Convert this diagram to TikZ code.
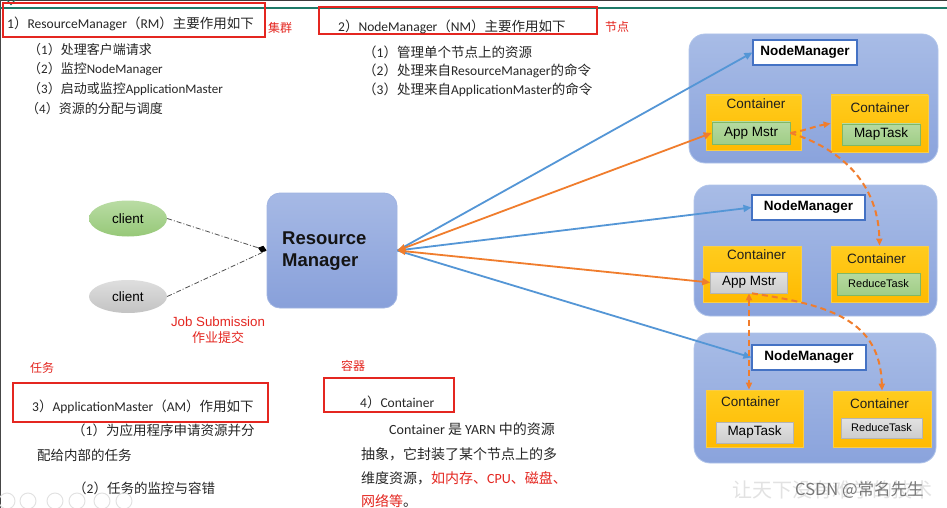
\documentclass[tikz,border=0pt]{standalone}
\usepackage{fontspec}
\setmainfont{Carlito}
\newfontfamily\cjk{Noto Sans CJK SC}
\newfontfamily\arial{Liberation Sans}
\usetikzlibrary{arrows.meta,shapes.geometric}
\definecolor{redc}{RGB}{228,38,32}
\definecolor{txtc}{RGB}{38,38,38}
\definecolor{bluel}{RGB}{84,150,214}
\definecolor{orng}{RGB}{240,125,45}
\definecolor{tealc}{RGB}{30,122,104}
\definecolor{frame1}{RGB}{60,60,60}
\definecolor{frame2}{RGB}{70,70,70}
\definecolor{ddc}{RGB}{80,80,80}
\tikzset{
  txt/.style={anchor=west, inner sep=0pt, text=txtc, font=\fontsize{13.5}{16}\selectfont},
  txtsm/.style={txt, font=\fontsize{13}{16}\selectfont},
  txtp/.style={txt, font=\fontsize{14}{16}\selectfont},
  redlbl/.style={anchor=west, inner sep=0pt, text=redc, font=\cjk\fontsize{12}{14}\selectfont},
  redbox/.style={draw=redc, line width=1.3pt, inner sep=0pt},
  panel/.style={rounded corners=16pt, top color={rgb,255:red,168;green,188;blue,230}, bottom color={rgb,255:red,138;green,163;blue,220}, draw={rgb,255:red,176;green,196;blue,234}, line width=0.8pt, inner sep=0pt},
  rmbox/.style={rounded corners=13pt, top color={rgb,255:red,166;green,185;blue,229}, bottom color={rgb,255:red,136;green,160;blue,218}, draw={rgb,255:red,160;green,180;blue,226}, line width=0.8pt, inner sep=0pt},
  nmbox/.style={fill=white, draw={rgb,255:red,68;green,114;blue,196}, line width=1.1pt, inner sep=0pt, font=\arial\bfseries\fontsize{13.5}{16}\selectfont, text=black},
  cont/.style={top color={rgb,255:red,255;green,204;blue,30}, bottom color={rgb,255:red,255;green,186;blue,0}, draw={rgb,255:red,250;green,205;blue,70}, line width=0.8pt, inner sep=0pt},
  contlbl/.style={inner sep=0pt, font=\arial\fontsize{13.5}{16}\selectfont, text={rgb,255:red,30;green,30;blue,30}},
  gbox/.style={top color={rgb,255:red,182;green,218;blue,160}, bottom color={rgb,255:red,160;green,205;blue,135}, draw={rgb,255:red,128;green,184;blue,100}, line width=0.7pt, inner sep=0pt, font=\arial\fontsize{13.5}{16}\selectfont, text=black},
  graybox/.style={top color={rgb,255:red,226;green,226;blue,226}, bottom color={rgb,255:red,205;green,205;blue,205}, draw={rgb,255:red,180;green,180;blue,180}, line width=0.7pt, inner sep=0pt, font=\arial\fontsize{13.5}{16}\selectfont, text=black},
  smallfont/.style={font=\arial\fontsize{11}{13}\selectfont},
  clientg/.style={ellipse, top color={rgb,255:red,186;green,220;blue,164}, bottom color={rgb,255:red,150;green,200;blue,120}, draw=none, inner sep=0pt, font=\arial\fontsize{13.5}{16}\selectfont, text=black},
  clientgr/.style={ellipse, top color={rgb,255:red,222;green,222;blue,222}, bottom color={rgb,255:red,195;green,195;blue,195}, draw=none, inner sep=0pt, font=\arial\fontsize{13.5}{16}\selectfont, text=black},
  bluearr/.style={draw=bluel, line width=1.8pt, -{Triangle[length=8pt,width=7pt]}},
  orarr/.style={draw=orng, line width=1.8pt, {Triangle[length=8pt,width=7pt]}-{Triangle[length=8pt,width=7pt]}},
  ordash/.style={draw=orng, line width=2pt, dash pattern=on 6pt off 4pt},
  ddline/.style={draw=ddc, line width=0.8pt, dash pattern=on 5pt off 2pt on 1pt off 2pt},
  faint/.style={draw={rgb,255:red,225;green,225;blue,225}, line width=0.9pt}
}
\begin{document}
\begin{tikzpicture}[x=1pt,y=-1pt]
\useasboundingbox (0,0) rectangle (947,508);
\fill[white] (0,0) rectangle (947,508);
% frame lines
\draw[draw=frame1, line width=1.2pt] (0,0.6) -- (947,0.6);
\draw[draw=frame2, line width=1.2pt] (0.6,0) -- (0.6,508);
\draw[draw=tealc, line width=2.5pt] (0,8) -- (947,8);
\draw[draw=tealc, line width=1.2pt] (7,0) -- (11,4.5) -- (15,0);

% ===== top-left block =====
\node[redbox, minimum width=262pt, minimum height=34pt] (rb1) at (134,20) {};
\node[txt] (t1) at (7,24) {1{\cjk ）}ResourceManager{\cjk （}RM{\cjk ）主要作用如下}};
\node[redlbl] (jq) at (268,28) {集群};
\node[txtsm] (l1a) at (28,50) {{\cjk （}1{\cjk ）处理客户端请求}};
\node[txtsm] (l1b) at (28,69) {{\cjk （}2{\cjk ）监控}NodeManager};
\node[txtsm] (l1c) at (28,89) {{\cjk （}3{\cjk ）启动或监控}ApplicationMaster};
\node[txtsm] (l1d) at (26,109) {{\cjk （}4{\cjk ）资源的分配与调度}};

% ===== top-middle block =====
\node[redbox, minimum width=278pt, minimum height=27pt] (rb2) at (458,20.5) {};
\node[txt] (t2) at (338,27) {2{\cjk ）}NodeManager{\cjk （}NM{\cjk ）主要作用如下}};
\node[redlbl] (jd) at (605,27) {节点};
\node[txt] (l2a) at (363,52) {{\cjk （}1{\cjk ）管理单个节点上的资源}};
\node[txt] (l2b) at (363,71) {{\cjk （}2{\cjk ）处理来自}ResourceManager{\cjk 的命令}};
\node[txt] (l2c) at (363,90) {{\cjk （}3{\cjk ）处理来自}ApplicationMaster{\cjk 的命令}};

% ===== bottom-left block =====
\node[redlbl] (rw) at (30,368) {任务};
\node[redbox, minimum width=255pt, minimum height=39pt] (rb3) at (140.5,402.5) {};
\node[txt] (t3) at (32,407) {3{\cjk ）}ApplicationMaster{\cjk （}AM{\cjk ）作用如下}};
\node[txt] (l3a) at (72,430) {{\cjk （}1{\cjk ）为应用程序申请资源并分}};
\node[txt] (l3b) at (37,455) {{\cjk 配给内部的任务}};
\node[txt] (l3c) at (73,488) {{\cjk （}2{\cjk ）任务的监控与容错}};

% ===== bottom-middle block =====
\node[redlbl] (rq) at (341,366) {容器};
\node[redbox, minimum width=130pt, minimum height=34pt] (rb4) at (389,395) {};
\node[txt] (t4) at (360,402) {4{\cjk ）}Container};
\node[txtp] (p1) at (389,429) {Container {\cjk 是} YARN {\cjk 中的资源}};
\node[txtp] (p2) at (361,454) {{\cjk 抽象，它封装了某个节点上的多}};
\node[txtp] (p3) at (361,478) {{\cjk 维度资源，\textcolor{redc}{如内存、}}\textcolor{redc}{CPU}{\cjk\color{redc}、磁盘、}};
\node[txtp] (p4) at (361,501) {{\cjk\color{redc}网络等}{\cjk 。}};

% ===== clients and RM =====
\node[clientg, minimum width=78pt, minimum height=36pt] (cl1) at (128,218.5) {client};
\node[clientgr, minimum width=78pt, minimum height=33pt] (cl2) at (128,296.5) {client};
\node[rmbox, minimum width=130pt, minimum height=115pt] (RM) at (332,250.5) {};
\node[anchor=west, align=left, inner sep=0pt, font=\arial\bfseries\fontsize{18.5}{22}\selectfont, text={rgb,255:red,20;green,20;blue,20}] (RMt) at (282,251) {Resource\\Manager};
\node[inner sep=0pt, align=center, text=redc, font=\arial\fontsize{13.3}{15}\selectfont] (js) at (218,322) {Job Submission};
\node[inner sep=0pt, text=redc, font=\cjk\fontsize{13}{15}\selectfont] (jst) at (218,338) {作业提交};

% ===== NodeManager panels =====
\node[panel, minimum width=249pt, minimum height=129pt] (P1) at (813.5,98.5) {};
\node[panel, minimum width=243pt, minimum height=131pt] (P2) at (815.5,250.5) {};
\node[panel, minimum width=242pt, minimum height=130pt] (P3) at (815,398) {};

\node[nmbox, minimum width=104pt, minimum height=25pt] (NM1) at (805,52.5) {NodeManager};
\node[nmbox, minimum width=113pt, minimum height=25pt] (NM2) at (808.5,207.5) {NodeManager};
\node[nmbox, minimum width=114pt, minimum height=25pt] (NM3) at (809,357.5) {NodeManager};

\node[cont, minimum width=95pt, minimum height=55pt] (C1) at (753.5,122.5) {};
\node[cont, minimum width=97pt, minimum height=57pt] (C2) at (879.5,123.5) {};
\node[cont, minimum width=98pt, minimum height=56pt] (C3) at (752,274) {};
\node[cont, minimum width=97pt, minimum height=56pt] (C4) at (879.5,274) {};
\node[cont, minimum width=97pt, minimum height=57pt] (C5) at (754.5,418.5) {};
\node[cont, minimum width=98pt, minimum height=56pt] (C6) at (882,419) {};

\node[contlbl] (c1l) at (756,104) {Container};
\node[contlbl] (c2l) at (880,108) {Container};
\node[contlbl] (c3l) at (756.5,255) {Container};
\node[contlbl] (c4l) at (876.5,259) {Container};
\node[contlbl] (c5l) at (750.5,402) {Container};
\node[contlbl] (c6l) at (879.5,404) {Container};

\node[gbox, minimum width=78pt, minimum height=22pt] (A1) at (751,133) {App Mstr};
\node[gbox, minimum width=78pt, minimum height=21pt] (M1) at (881,134.5) {MapTask};
\node[graybox, minimum width=77pt, minimum height=21pt] (A2) at (749,282.5) {App Mstr};
\node[gbox, smallfont, minimum width=83pt, minimum height=22pt] (R1) at (878.5,284) {ReduceTask};
\node[graybox, minimum width=77pt, minimum height=21pt] (M2) at (754.5,432.5) {MapTask};
\node[graybox, smallfont, minimum width=81pt, minimum height=20pt] (R2) at (881.5,428) {ReduceTask};

% ===== connectors =====
\draw[ddline, -{Diamond[length=9pt,width=7pt,color=black,fill=black]}] (cl1.east) -- (RM.west);
\draw[ddline] (cl2.east) -- (RM.west);

\draw[bluearr] (RM.east) -- (NM1.west);
\draw[bluearr] (RM.east) -- (NM2.west);
\draw[bluearr] (RM.east) -- (NM3.west);
\draw[orarr] (RM.east) -- (A1.west);
\draw[orarr] (RM.east) -- (A2.west);

\draw[ordash, -{Triangle[length=7pt,width=6pt]}] (A1.east) to[out=10,in=190] (C2.west);
\draw[ordash, -{Triangle[length=7pt,width=6pt]}] (A1.east) .. controls (830,145) and (878,175) .. (C4.north);
\draw[ordash, {Triangle[length=7pt,width=6pt]}-{Triangle[length=7pt,width=6pt]}] (A2.south) -- (A2.south |- C5.north);
\draw[ordash, -{Triangle[length=7pt,width=6pt]}] ([xshift=3pt]A2.south) .. controls (830,305) and (880,320) .. (C6.north);

% ===== watermark =====
\node[anchor=west, inner sep=0pt, text={rgb,255:red,226;green,226;blue,226}, font=\cjk\fontsize{20}{22}\selectfont] (wm) at (732,490) {让天下没有难学的技术};
\node[anchor=west, inner sep=0pt, text={rgb,255:red,120;green,120;blue,120}, font=\cjk\fontsize{16.5}{18}\selectfont] (csdn) at (795,490) {CSDN @常名先生};

% ===== faint slide controls =====
\foreach \cx in {7,28,55,77,102,124} { \draw[faint] (\cx,501) circle (8); }
\end{tikzpicture}
\end{document}
